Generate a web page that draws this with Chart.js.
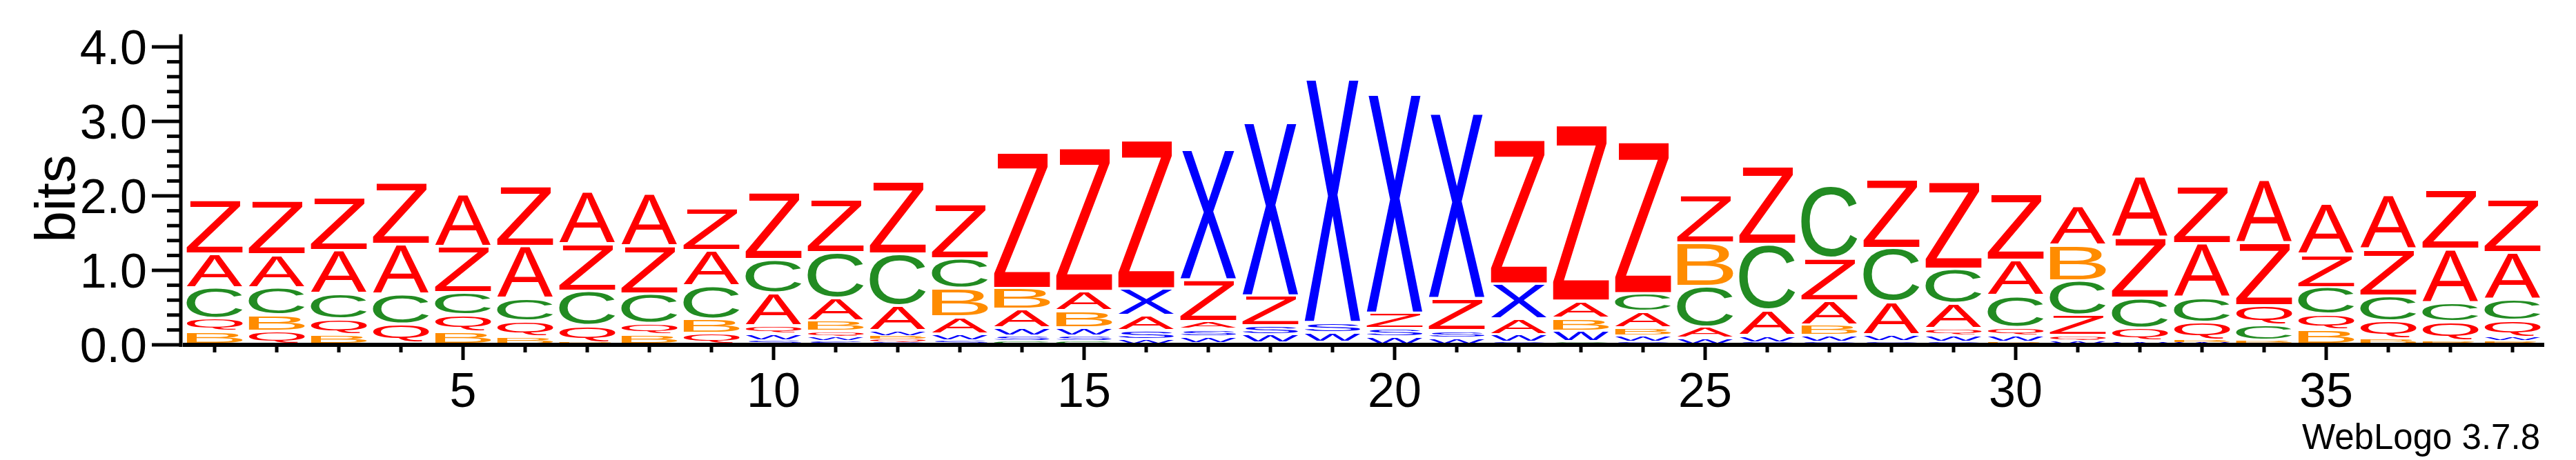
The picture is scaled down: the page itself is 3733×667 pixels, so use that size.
<!DOCTYPE html>
<html>
<head>
<meta charset="utf-8">
<title>WebLogo</title>
<script src="https://cdn.jsdelivr.net/npm/chart.js@4.4.1/dist/chart.umd.min.js"></script>
<style>
  html, body { margin: 0; padding: 0; background: #ffffff; }
  canvas { display: block; }
</style>
</head>
<body>
<canvas id="chart" width="3733" height="667"></canvas>
<script>
// posiciones del logo (eje x)
const posiciones = ['1','2','3','4','5','6','7','8','9','10','11','12','13','14','15','16','17','18','19',
  '20','21','22','23','24','25','26','27','28','29','30','31','32','33','34','35','36','37','38'];

// altura (bits) de cada letra en cada posicion
const alturasZ = [0.73,0.72,0.71,0.83,0.62,0.81,0.635,0.64,0.57,0.90,0.71,0.97,0.74,1.83,1.93,2.00,0.56,0.40,0,
  0.21,0.43,1.94,2.37,2.04,0.64,1.04,0.57,0.93,1.175,0.89,0.27,0.81,0.775,0.845,0.445,0.62,0.80,0.71];
const alturasA = [0.455,0.44,0.58,0.67,0.70,0.70,0.70,0.70,0.475,0.44,0.305,0.335,0.23,0.25,0.26,0.205,0.10,0,0,
  0,0,0.21,0.23,0.22,0.15,0.34,0.32,0.44,0.335,0.48,0.53,0.83,0.735,0.85,0.675,0.73,0.72,0.63];
const alturasC = [0.41,0.37,0.34,0.40,0.30,0.305,0.46,0.40,0.445,0.45,0.615,0.695,0.40,0.05,0.05,0,0,0,0,
  0,0,0,0.04,0.24,0.545,0.88,0.97,0.72,0.46,0.42,0.465,0.40,0.325,0.21,0.36,0.34,0.26,0.28];
const alturasB = [0.17,0.21,0.13,0.02,0.17,0.10,0.03,0.13,0.19,0,0.14,0.045,0.38,0.28,0.23,0,0.02,0,0,
  0,0,0,0.17,0.10,0.585,0,0.14,0,0,0.04,0.475,0,0.035,0.03,0.19,0.08,0.05,0.05];
const alturasQ = [0.18,0.18,0.21,0.25,0.22,0.21,0.22,0.15,0.15,0.11,0.07,0.04,0,0,0,0,0,0.02,0.03,
  0,0,0,0,0,0,0,0,0,0.09,0.11,0.07,0.18,0.23,0.26,0.21,0.23,0.25,0.22];
const alturasX = [0,0,0,0,0,0,0,0,0,0,0,0,0,0,0,0.355,1.75,2.33,3.27,
  2.94,2.49,0.47,0,0,0,0,0,0,0,0,0,0,0,0,0,0,0,0];
const alturasW = [0,0,0,0,0,0,0,0,0,0.08,0.055,0.07,0.08,0.10,0.10,0.07,0.09,0.11,0.13,
  0.10,0.09,0.10,0.14,0.08,0.08,0.09,0.08,0.09,0.08,0.08,0.05,0.04,0.03,0.02,0,0,0,0.05];
const alturasS = [0,0,0,0,0,0,0,0,0,0.06,0.05,0.03,0.06,0.07,0.07,0.115,0.095,0.12,0.135,
  0.11,0.095,0.03,0,0.04,0,0.03,0.04,0.04,0.04,0,0,0,0,0,0,0,0,0];

// etiquetas de los ejes
const etiquetasX = ['5','10','15','20','25','30','35'];
const etiquetasY = ['0.0','1.0','2.0','3.0','4.0'];

const letras = [
  { ch: 'Z', color: '#ff0000', alturas: alturasZ },
  { ch: 'A', color: '#ff0000', alturas: alturasA },
  { ch: 'C', color: '#228b22', alturas: alturasC },
  { ch: 'B', color: '#ff8c00', alturas: alturasB },
  { ch: 'Q', color: '#ff0000', alturas: alturasQ },
  { ch: 'X', color: '#0000ff', alturas: alturasX },
  { ch: 'W', color: '#0000ff', alturas: alturasW },
  { ch: 'S', color: '#0000ff', alturas: alturasS }
];

const FUENTE = '"Liberation Sans", Arial, Helvetica, sans-serif';

// ordenar cada columna: la letra mas pequeña abajo
const columnas = posiciones.map((p, j) =>
  letras
    .map(l => ({ ch: l.ch, color: l.color, h: l.alturas[j] }))
    .filter(l => l.h > 0)
    .sort((a, b) => a.h - b.h)
);
const maxNivel = Math.max(...columnas.map(c => c.length));

const datasets = [];
for (let r = 0; r < maxNivel; r++) {
  datasets.push({
    label: 'nivel ' + r,
    data: columnas.map(c => c[r] ? c[r].h : 0),
    letra: columnas.map(c => c[r] ? c[r] : null),
    backgroundColor: 'rgba(0,0,0,0)',
    borderWidth: 0,
    stack: 'logo',
    barPercentage: 0.9,
    categoryPercentage: 1.0
  });
}

function dibujarLetra(ctx, ch, color, x, y, w, h) {
  if (w <= 0 || h <= 0.3) return;
  ctx.save();
  ctx.font = '200px ' + FUENTE;
  ctx.textAlign = 'left';
  ctx.textBaseline = 'alphabetic';
  const m = ctx.measureText(ch);
  const gw = m.actualBoundingBoxLeft + m.actualBoundingBoxRight;
  const gh = m.actualBoundingBoxAscent + m.actualBoundingBoxDescent;
  ctx.translate(x, y);
  ctx.scale(w / gw, h / gh);
  ctx.fillStyle = color;
  ctx.fillText(ch, m.actualBoundingBoxLeft, m.actualBoundingBoxAscent);
  ctx.restore();
}

const pluginLetras = {
  id: 'letrasLogo',
  afterDatasetsDraw(chart) {
    const ctx = chart.ctx;
    chart.data.datasets.forEach((ds, i) => {
      const meta = chart.getDatasetMeta(i);
      meta.data.forEach((el, j) => {
        const info = ds.letra[j];
        if (!info) return;
        const p = el.getProps(['x', 'y', 'base', 'width'], true);
        const alto = p.base - p.y;
        const hueco = Math.min(4, alto * 0.3);
        dibujarLetra(ctx, info.ch, info.color, p.x - p.width / 2, p.y + hueco * 0.25,
          p.width, alto - hueco);
      });
    });
  }
};

const pluginEjes = {
  id: 'ejesLogo',
  afterDraw(chart) {
    const { ctx, chartArea, scales } = chart;
    const x = scales.x, y = scales.y;
    const y0 = y.getPixelForValue(0);
    const ejeX = chartArea.left - 4;
    ctx.save();
    ctx.fillStyle = '#000000';

    // eje y
    const yTope = y.getPixelForValue(4.17);
    ctx.fillRect(ejeX - 2.5, yTope, 5, y0 + 3 - yTope);
    for (let k = 0; k <= 20; k++) {
      const py = y.getPixelForValue(k * 0.2);
      const largo = (k % 5 === 0) ? 42 : 20;
      ctx.fillRect(ejeX - largo, py - 2.5, largo, 5);
    }
    ctx.font = '70px ' + FUENTE;
    ctx.textAlign = 'right';
    ctx.textBaseline = 'alphabetic';
    etiquetasY.forEach(t => {
      const py = y.getPixelForValue(parseFloat(t));
      ctx.fillText(t, ejeX - 49, py + 25);
    });

    // eje x
    ctx.fillRect(chartArea.left - 1, y0 - 3, chartArea.right - chartArea.left + 2, 6);
    posiciones.forEach((p, j) => {
      const px = x.getPixelForValue(j);
      const mayor = etiquetasX.includes(p);
      ctx.fillRect(px - 2.5, y0 + 3, 5, mayor ? 19 : 8);
    });
    ctx.textAlign = 'center';
    etiquetasX.forEach(t => {
      const px = x.getPixelForValue(posiciones.indexOf(t));
      ctx.fillText(t, px, 590);
    });

    // titulo del eje y
    ctx.save();
    ctx.translate(108, 288);
    ctx.rotate(-Math.PI / 2);
    ctx.font = '82px ' + FUENTE;
    ctx.textAlign = 'center';
    ctx.fillText('bits', 0, 0);
    ctx.restore();

    // pie
    ctx.font = '51px ' + FUENTE;
    ctx.textAlign = 'right';
    ctx.fillText('WebLogo 3.7.8', 3681, 651);
    ctx.restore();
  }
};

new Chart(document.getElementById('chart').getContext('2d'), {
  type: 'bar',
  data: { labels: posiciones, datasets: datasets },
  options: {
    responsive: false,
    devicePixelRatio: 1,
    animation: false,
    layout: { padding: { left: 266, right: 47, top: 68, bottom: 167 } },
    scales: {
      x: { stacked: true, display: false },
      y: { stacked: true, display: false, min: 0, max: 4 }
    },
    plugins: { legend: { display: false }, tooltip: { enabled: false } }
  },
  plugins: [pluginLetras, pluginEjes]
});
</script>
</body>
</html>
